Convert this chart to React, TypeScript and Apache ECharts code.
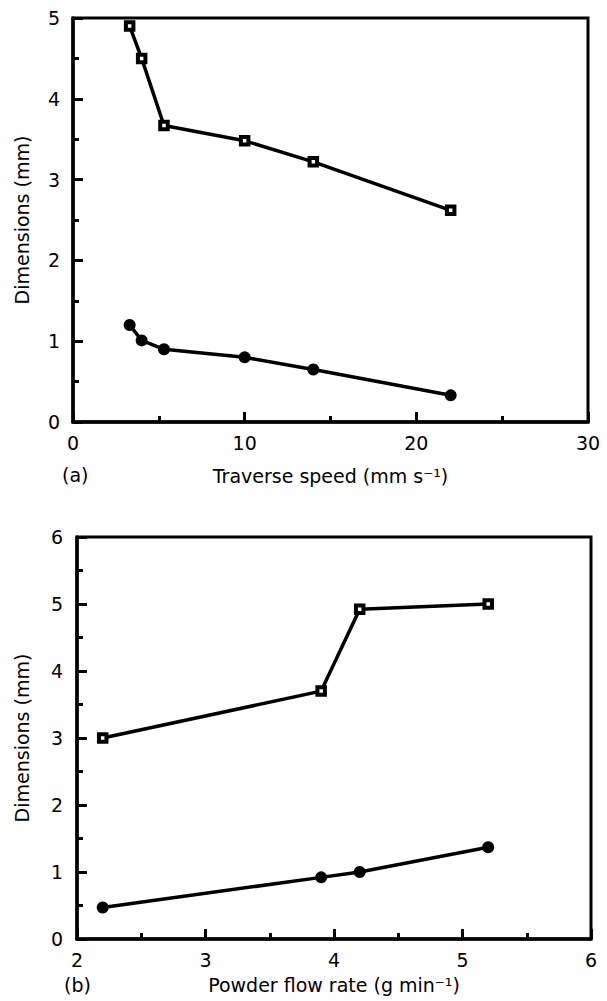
import React, { useEffect, useRef } from "react";
import * as echarts from "echarts";

// Panel (a): traverse speed (mm s^-1)
const speedX = [3.3, 4.0, 5.3, 10, 14, 22];
const speedWidth = [4.9, 4.5, 3.67, 3.48, 3.22, 2.62];
const speedHeight = [1.2, 1.01, 0.9, 0.8, 0.65, 0.33];

// Panel (b): powder flow rate (g min^-1)
const flowX = [2.2, 3.9, 4.2, 5.2];
const flowWidth = [3.0, 3.7, 4.92, 5.0];
const flowHeight = [0.47, 0.92, 1.0, 1.37];

const FONT = "DejaVu Sans";
const INK = "#000";

function pairs(xs: number[], ys: number[]) {
  return xs.map((x, i) => [x, ys[i]]);
}

function valueAxis(idx: number, min: number, max: number, interval: number, extra: any = {}) {
  return {
    type: "value",
    gridIndex: idx,
    min,
    max,
    interval,
    axisLine: { show: true, lineStyle: { color: INK, width: 3.5 } },
    axisTick: { show: true, inside: true, length: 10, lineStyle: { color: INK, width: 3 } },
    minorTick: { show: true, splitNumber: 2, length: 6, lineStyle: { color: INK, width: 3 } },
    splitLine: { show: false },
    minorSplitLine: { show: false },
    axisLabel: { color: INK, fontFamily: FONT, fontSize: 19 },
    nameTextStyle: { color: INK, fontFamily: FONT, fontSize: 19 },
    ...extra,
  };
}

const squareSeries = (name: string, xi: number, data: number[][]) => ({
  name,
  type: "line",
  xAxisIndex: xi,
  yAxisIndex: xi,
  data,
  symbol: "rect",
  symbolSize: 7.5,
  lineStyle: { color: INK, width: 3.5 },
  itemStyle: { color: "#fff", borderColor: INK, borderWidth: 4 },
  z: 3,
});

const dotSeries = (name: string, xi: number, data: number[][]) => ({
  name,
  type: "line",
  xAxisIndex: xi,
  yAxisIndex: xi,
  data,
  symbol: "circle",
  symbolSize: 12,
  lineStyle: { color: INK, width: 3.5 },
  itemStyle: { color: INK, borderWidth: 0 },
  z: 3,
});

export default function App() {
  const ref = useRef<HTMLDivElement>(null);
  useEffect(() => {
    if (!ref.current) return;
    const chart = echarts.init(ref.current, undefined, { renderer: "svg" });
    chart.setOption({
      animation: false,
      backgroundColor: "#fff",
      grid: [
        { left: 73, top: 18, width: 515, height: 404, show: true, borderColor: INK, borderWidth: 3, containLabel: false },
        { left: 77, top: 537, width: 514, height: 402, show: true, borderColor: INK, borderWidth: 3, containLabel: false },
      ],
      xAxis: [
        valueAxis(0, 0, 30, 10, {
          name: "Traverse speed (mm s⁻¹)",
          nameLocation: "middle",
          nameGap: 44,
          axisLabel: { color: INK, fontFamily: FONT, fontSize: 19, margin: 11 },
        }),
        valueAxis(1, 2, 6, 1, {
          name: "Powder flow rate (g min⁻¹)",
          nameLocation: "middle",
          nameGap: 36,
          axisLabel: { color: INK, fontFamily: FONT, fontSize: 19, margin: 11 },
        }),
      ],
      yAxis: [
        valueAxis(0, 0, 5, 1, {
          name: "Dimensions (mm)",
          nameLocation: "middle",
          nameGap: 42,
          axisLabel: { color: INK, fontFamily: FONT, fontSize: 19, margin: 13 },
        }),
        valueAxis(1, 0, 6, 1, {
          name: "Dimensions (mm)",
          nameLocation: "middle",
          nameGap: 46,
          axisLabel: { color: INK, fontFamily: FONT, fontSize: 19, margin: 14 },
        }),
      ],
      graphic: [
        { type: "text", left: 62, top: 465, style: { text: "(a)", fontFamily: FONT, fontSize: 19, fill: INK } },
        { type: "text", left: 64, top: 975, style: { text: "(b)", fontFamily: FONT, fontSize: 19, fill: INK } },
      ],
      series: [
        squareSeries("Width (a)", 0, pairs(speedX, speedWidth)),
        dotSeries("Height (a)", 0, pairs(speedX, speedHeight)),
        squareSeries("Width (b)", 1, pairs(flowX, flowWidth)),
        dotSeries("Height (b)", 1, pairs(flowX, flowHeight)),
      ],
    });
    return () => chart.dispose();
  }, []);
  return (
    <div
      ref={ref}
      style={{ position: "fixed", left: 0, top: 0, width: 607, height: 1001, background: "#fff" }}
    />
  );
}
